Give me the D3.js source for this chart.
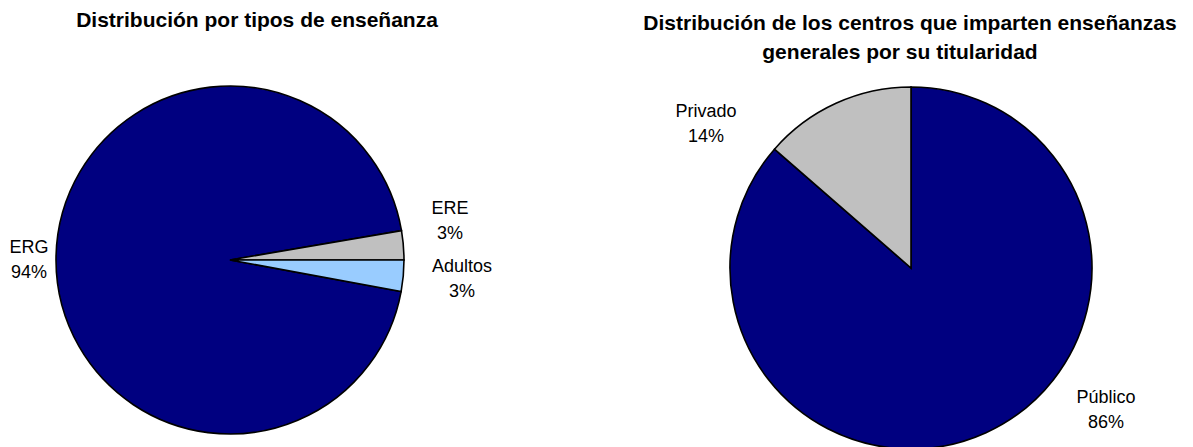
<!DOCTYPE html>
<html><head><meta charset="utf-8">
<script src="https://cdn.jsdelivr.net/npm/d3@7"></script>
<style>body{margin:0;background:#fff}svg{display:block}</style>
</head><body>
<svg id="c" width="1193" height="447"></svg>
<script>
// Data
const tiposCategories = ["ERG", "ERE", "Adultos"];
const tiposValues = [94.4, 2.7, 2.9];
const tiposLabels = ["94%", "3%", "3%"];
const titularidadCategories = ["Público", "Privado"];
const titularidadValues = [86.4, 13.6];
const titularidadLabels = ["86%", "14%"];

const svg = d3.select("#c");
const font = "'Liberation Sans', Arial, sans-serif";

function drawPie(cfg) {
  const g = svg.append("g").attr("transform", `translate(${cfg.cx},${cfg.cy})`);
  const data = cfg.categories.map((c, i) => ({cat: c, value: cfg.values[i], label: cfg.labels[i]}));
  const total = d3.sum(data, d => d.value);
  const s = cfg.startAngle(total, data);
  const pie = d3.pie().sort(null).value(d => d.value).startAngle(s).endAngle(s + 2 * Math.PI);
  const arc = d3.arc().innerRadius(0).outerRadius(cfg.r);
  const color = d3.scaleOrdinal().domain(cfg.categories).range(cfg.colors);
  const arcs = pie(data);
  g.selectAll("path").data(arcs).join("path")
    .attr("d", arc).attr("fill", d => color(d.data.cat))
    .attr("stroke", "#000").attr("stroke-width", 1.6).attr("stroke-linejoin", "miter");
  arcs.forEach((a, i) => {
    const off = cfg.labelPos[i];
    const t = g.append("text").attr("x", off[0]).attr("y", off[1])
      .attr("text-anchor", "middle").attr("font-family", font).attr("font-size", 18).attr("fill", "#000");
    t.append("tspan").attr("x", off[0]).attr("dy", 0).text(a.data.cat);
    t.append("tspan").attr("x", off[0]).attr("dy", 24.5).text(a.data.label);
  });
}

// Titles
svg.append("text").attr("x", 257).attr("y", 27).attr("text-anchor", "middle")
  .attr("font-family", font).attr("font-weight", "bold").attr("font-size", 21)
  .text("Distribución por tipos de enseñanza");
const t2 = svg.append("text").attr("text-anchor", "middle")
  .attr("font-family", font).attr("font-weight", "bold").attr("font-size", 21);
t2.append("tspan").attr("x", 910).attr("y", 30).text("Distribución de los centros que imparten enseñanzas");
t2.append("tspan").attr("x", 900).attr("y", 59).text("generales por su titularidad");

drawPie({
  cx: 230, cy: 260, r: 174,
  categories: tiposCategories, values: tiposValues, labels: tiposLabels,
  colors: ["#000080", "#C0C0C0", "#99CCFF"],
  // Adultos starts at 3 o'clock
  startAngle: (total, data) => Math.PI / 2 - (data[0].value + data[1].value) / total * 2 * Math.PI,
  labelPos: [[-201, -7], [220, -46], [232, 12]]
});

drawPie({
  cx: 911, cy: 268, r: 181,
  categories: titularidadCategories, values: titularidadValues, labels: titularidadLabels,
  colors: ["#000080", "#C0C0C0"],
  startAngle: () => 0,
  labelPos: [[195, 135], [-205, -151]]
});
</script>
</body></html>
